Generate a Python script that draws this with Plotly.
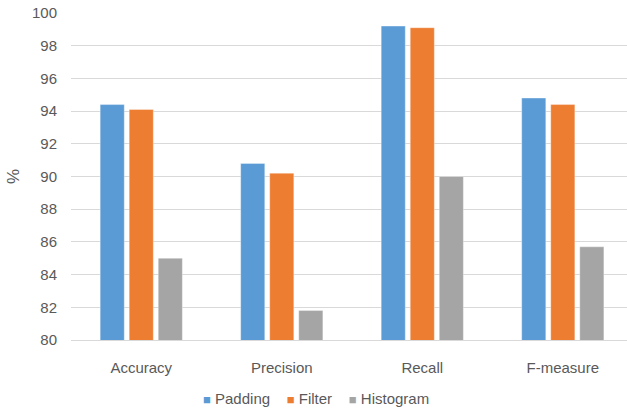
import plotly.graph_objects as go

# Metric categories and the score (%) of each method
categories = ["Accuracy", "Precision", "Recall", "F-measure"]
padding = [94.4, 90.8, 99.2, 94.8]
filter_ = [94.1, 90.2, 99.1, 94.4]
histogram = [85.0, 81.8, 90.0, 85.7]
y_ticks = [80, 82, 84, 86, 88, 90, 92, 94, 96, 98, 100]

series = [
    ("Padding", padding, "#5B9BD5"),
    ("Filter", filter_, "#ED7D31"),
    ("Histogram", histogram, "#A5A5A5"),
]

FONT = "Liberation Sans, Arial, sans-serif"
TEXT = "#595959"

fig = go.Figure()
for name, vals, col in series:
    fig.add_trace(go.Bar(
        name=name, x=categories, y=vals,
        marker=dict(color=col, line=dict(color="rgba(255,255,255,0.35)", width=1)),
        showlegend=False,
    ))

# Compact legend row: small colour square followed by the series name
legend_text = "&nbsp;&nbsp;&nbsp;&nbsp;".join(
    f"<span style='color:{col};font-size:13px'>■</span>&nbsp;{name}"
    for name, _, col in series
)
fig.add_annotation(
    text=legend_text, xref="paper", yref="paper",
    x=0.44, y=-0.18, xanchor="center", yanchor="middle",
    showarrow=False, font=dict(family=FONT, size=15, color=TEXT),
)

fig.update_layout(
    width=627, height=410,
    margin=dict(l=71, r=0, t=13, b=70),
    paper_bgcolor="white", plot_bgcolor="white",
    barmode="group", bargap=0.38, bargroupgap=0.17,
    font=dict(family=FONT, size=15, color=TEXT),
    xaxis=dict(
        range=[-0.5, 3.457],
        showgrid=False, showline=True, linecolor="#D9D9D9", linewidth=1,
        ticks="outside", ticklen=14, tickcolor="rgba(0,0,0,0)",
        tickfont=dict(family=FONT, size=15, color=TEXT),
    ),
    yaxis=dict(
        range=[80, 100], tickvals=y_ticks,
        showgrid=True, gridcolor="#D9D9D9", gridwidth=1, zeroline=False,
        ticks="outside", ticklen=10, tickcolor="rgba(0,0,0,0)",
        tickfont=dict(family=FONT, size=15, color=TEXT),
        title=dict(text="%", font=dict(family=FONT, size=17, color=TEXT), standoff=8),
    ),
)

fig.write_html("out.html")
